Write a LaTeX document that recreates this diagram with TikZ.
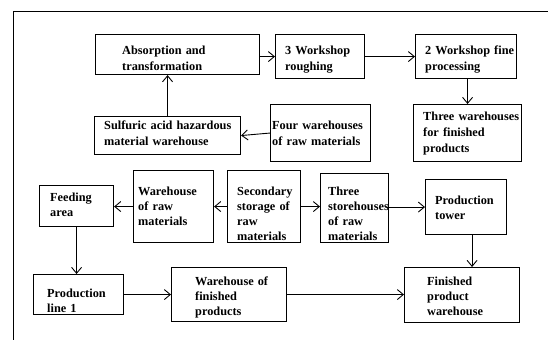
\documentclass[tikz,border=0pt]{standalone}
\usepackage{fontspec}
\setmainfont{Liberation Serif}
\usetikzlibrary{arrows.meta}
\begin{document}
\begin{tikzpicture}[x=1pt,y=-1pt,
  box/.style 2 args={draw, line width=1.1pt, anchor=north west, inner sep=0pt,
    minimum width=#1, minimum height=#2},
  lbl/.style={anchor=base west, inner sep=0pt, align=left, text width=160pt,
    font=\fontsize{12.3}{15}\selectfont\bfseries},
  lbltop/.style={lbl, font=\fontsize{12.3}{16}\selectfont\bfseries},
  arr/.style={line width=0.9pt, -{Straight Barb[length=6pt,width=10pt]}},
  frame/.style={line width=0.9pt}]
\useasboundingbox (0,0) rectangle (548,340);
\fill[white] (0,0) rectangle (548,340);
% outer frame
\coordinate (ftr) at (548,11);
\coordinate (ftl) at (13,11);
\coordinate (fbl) at (13,340);
\draw[frame] (ftr) -- (ftl) -- (fbl);
% top row boxes
\node[box={164}{40}] (absorb) at (95,34) {};
\node[box={89}{44}] (ws3) at (275,34) {};
\node[box={101}{44}] (ws2) at (415,34) {};
\node[box={108}{57}] (threewh) at (413,104) {};
\node[box={146}{38}] (sulf) at (94,116) {};
\node[box={100}{57}] (four) at (270,104) {};
% middle row boxes
\node[box={74}{41}] (feed) at (39,185) {};
\node[box={80}{72}] (whraw) at (133,170) {};
\node[box={73}{72}] (sec) at (227,170) {};
\node[box={68}{69}] (three) at (320,173) {};
\node[box={81}{55}] (tower) at (425,179) {};
% bottom row boxes
\node[box={90}{40}] (pl1) at (33,274) {};
\node[box={115}{54}] (whfin) at (171,267) {};
\node[box={115}{55}] (fpw) at (404,267) {};
% labels
\node[lbltop] (absorb-t) at (122,54.2) {Absorption and\\transformation};
\node[lbltop] (ws3-t) at (285,54.2) {3 Workshop\\roughing};
\node[lbltop] (ws2-t) at (425,54.2) {2 Workshop fine\\processing};
\node[lbltop] (threewh-t) at (423,120.6) {Three warehouses\\for finished\\products};
\node[lbltop] (sulf-t) at (104,129.5) {Sulfuric acid hazardous\\material warehouse};
\node[lbltop] (four-t) at (272,129.5) {Four warehouses\\of raw materials};
\node[lbl] (feed-t) at (50,201.7) {Feeding\\area};
\node[lbl] (whraw-t) at (138,195) {Warehouse\\of raw\\materials};
\node[lbl] (sec-t) at (237,195) {Secondary\\storage of\\raw\\materials};
\node[lbl] (three-t) at (328,195) {Three\\storehouses\\of raw\\materials};
\node[lbl] (tower-t) at (435,204) {Production\\tower};
\node[lbl] (pl1-t) at (47,297) {Production\\line 1};
\node[lbl] (whfin-t) at (195,285) {Warehouse of\\finished\\products};
\node[lbl] (fpw-t) at (427,285) {Finished\\product\\warehouse};
% connectors
\draw[arr] (absorb.east |- ws3.west) -- (ws3.west);
\draw[arr] (ws3.east) -- (ws3.east -| ws2.west);
\draw[arr] (threewh.north |- ws2.south) -- (threewh.north);
\draw[arr] (sulf.north) -- (sulf.north |- absorb.south);
\draw[arr] (four.west) -- (sulf.east);
\draw[arr] (whraw.west) -- (whraw.west -| feed.east);
\draw[arr] (sec.west) -- (whraw.east);
\draw[arr] (sec.east) -- (sec.east -| three.west);
\draw[arr] (three.east |- tower.west) -- (tower.west);
\draw[arr] (feed.south) -- (feed.south |- pl1.north);
\draw[arr] ([xshift=6pt]tower.south) -- ([xshift=6pt]tower.south |- fpw.north);
\draw[arr] (pl1.east) -- (pl1.east -| whfin.west);
\draw[arr] (whfin.east) -- (whfin.east -| fpw.west);
\end{tikzpicture}
\end{document}
